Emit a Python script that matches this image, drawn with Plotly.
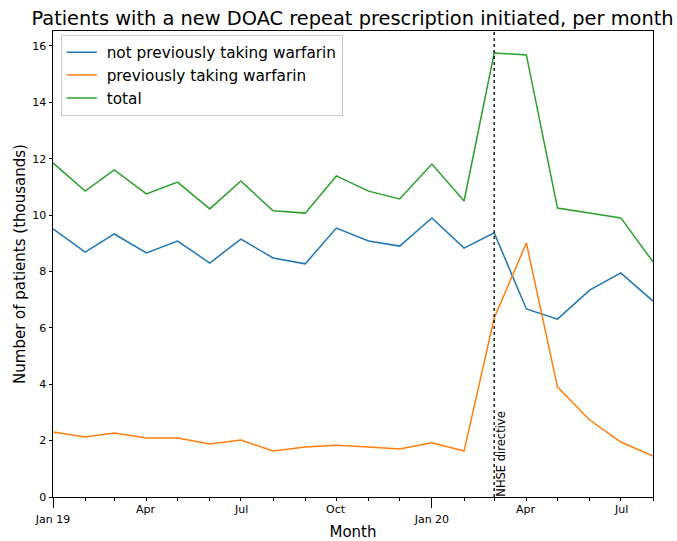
import plotly.graph_objects as go

months = ["2019-01-01","2019-02-01","2019-03-01","2019-04-01","2019-05-01","2019-06-01",
          "2019-07-01","2019-08-01","2019-09-01","2019-10-01","2019-11-01","2019-12-01",
          "2020-01-01","2020-02-01","2020-03-01","2020-04-01","2020-05-01","2020-06-01",
          "2020-07-01","2020-08-01"]
not_prev = [9.51, 8.69, 9.33, 8.66, 9.08, 8.30, 9.15, 8.48, 8.27, 9.54, 9.08, 8.90,
            9.90, 8.83, 9.37, 6.67, 6.31, 7.34, 7.95, 6.95]
prev = [2.31, 2.13, 2.27, 2.09, 2.09, 1.88, 2.02, 1.63, 1.77, 1.84, 1.77, 1.70,
        1.92, 1.63, 6.35, 9.01, 3.90, 2.73, 1.95, 1.45]
total = [11.85, 10.85, 11.60, 10.75, 11.17, 10.22, 11.21, 10.15, 10.07, 11.39, 10.85, 10.57,
         11.81, 10.50, 15.75, 15.68, 10.25, 10.07, 9.90, 8.34]

major_ticks = ["2019-01-01", "2020-01-01"]
major_labels = ["Jan 19", "Jan 20"]
minor_label_dates = ["2019-04-01", "2019-07-01", "2019-10-01", "2020-04-01", "2020-07-01"]
minor_labels = ["Apr", "Jul", "Oct", "Apr", "Jul"]
directive_date = "2020-03-01"
directive_label = "NHSE directive"

FONT = "DejaVu Sans"
fig = go.Figure()
for name, vals, col in [("not previously taking warfarin", not_prev, "#1f77b4"),
                        ("previously taking warfarin", prev, "#ff7f0e"),
                        ("total", total, "#2ca02c")]:
    fig.add_trace(go.Scatter(x=months, y=vals, mode="lines", name="\u00a0" + name,
                             line=dict(color=col, width=1.5)))

fig.add_vline(x=directive_date, line=dict(color="black", width=1.3, dash="dot"))
fig.add_annotation(x=directive_date, y=0, xref="x", yref="y", text=directive_label,
                   textangle=-90, showarrow=False, xanchor="left", yanchor="bottom",
                   xshift=-3, yshift=-2, font=dict(family=FONT, size=11.5, color="black"))

for d, lab in zip(minor_label_dates, minor_labels):
    fig.add_annotation(x=d, y=0, xref="x", yref="paper", text=lab, showarrow=False,
                       yanchor="top", yshift=-4, font=dict(family=FONT, size=11, color="black"))

fig.update_layout(
    width=677, height=541,
    margin=dict(l=53, r=24, t=31, b=44, autoexpand=False),
    plot_bgcolor="white", paper_bgcolor="white",
    title=dict(text="Patients with a new DOAC repeat prescription initiated, per month",
               x=0.5207, xanchor="center", xref="container", y=0.966, yanchor="middle",
               yref="container", automargin=False,
               font=dict(family=FONT, size=19.4, color="black")),
    legend=dict(x=0.013, y=0.992, xanchor="left", yanchor="top",
                bgcolor="rgba(255,255,255,0.8)", bordercolor="#cccccc", borderwidth=1,
                font=dict(family=FONT, size=15.3, color="black"), tracegroupgap=0),
    xaxis=dict(type="date", range=["2019-01-01", "2020-08-01"], automargin=False,
               tickvals=major_ticks, ticktext=major_labels,
               ticks="outside", ticklen=10, tickcolor="black", ticklabelstandoff=2,
               tickfont=dict(family=FONT, size=11, color="black"),
               minor=dict(dtick="M1", tick0="2019-01-01", ticks="outside", ticklen=3,
                          tickcolor="black", showgrid=False),
               showgrid=False, zeroline=False, showline=True, linecolor="black",
               linewidth=1, mirror=True,
               title=dict(text="Month", font=dict(family=FONT, size=15, color="black"),
                          standoff=8)),
    yaxis=dict(range=[0, 16.53], tickvals=[0, 2, 4, 6, 8, 10, 12, 14, 16], automargin=False,
               ticks="outside", ticklen=3.5, tickcolor="black",
               tickfont=dict(family=FONT, size=11, color="black"),
               showgrid=False, zeroline=False, showline=True, linecolor="black",
               linewidth=1, mirror=True,
               title=dict(text="Number of patients (thousands)",
                          font=dict(family=FONT, size=15, color="black"), standoff=3)),
)
fig.write_html("out.html", config={"displayModeBar": False},
               post_script="document.body.style.margin='0';")
